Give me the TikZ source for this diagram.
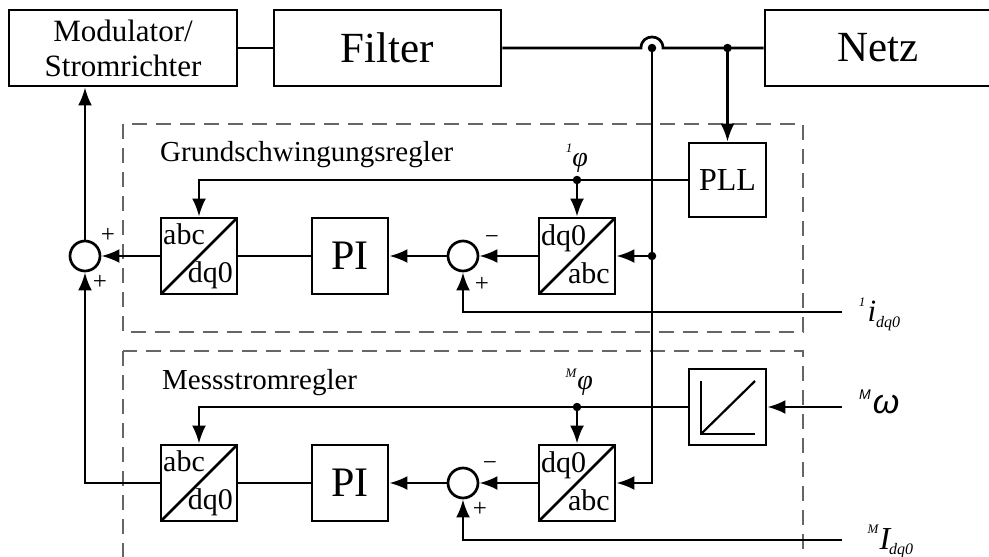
\documentclass[tikz,border=0pt]{standalone}
\usepackage{fontspec}
\setmainfont{Liberation Serif}
\newfontfamily\sansf{Liberation Sans}
\usetikzlibrary{arrows.meta}
\tikzset{
  every picture/.style={x=1pt,y=-1pt},
  wire/.style={line width=2.7pt},
  arr/.style={wire,-{Latex[length=18pt,width=14pt]}},
  blk/.style={draw,line width=2.7pt,rectangle,inner sep=0pt,minimum width=76pt,minimum height=76pt},
  conv/.style={blk,path picture={\draw[line width=2.7pt] (path picture bounding box.south west) -- (path picture bounding box.north east);}},
  sumnode/.style={draw,line width=2.7pt,circle,inner sep=0pt,minimum size=30pt},
  dashbox/.style={draw=black!60,line width=1.1pt,dash pattern=on 15pt off 9pt},
  dotf/.style={fill,circle,inner sep=0pt,minimum size=8.5pt},
  convtxt/.style={font=\fontsize{30}{30}\selectfont,inner sep=0pt},
  sgn/.style={font=\fontsize{25}{25}\selectfont,inner sep=0pt},
}
\begin{document}
\begin{tikzpicture}
\useasboundingbox (0,0) rectangle (989,557);
\fill[white] (0,0) rectangle (989,557);
% dashed frames
\draw[dashbox] (123,124) rectangle (803,332);
\draw[dashbox] (123,351) rectangle (803,590);
% top row
\node[blk,minimum width=228pt,align=center,font=\fontsize{31}{35}\selectfont] (mod) at (123,48) {Modulator/\\Stromrichter};
\node[blk,minimum width=227pt,font=\fontsize{43}{43}\selectfont] (filt) at (387.5,48) {Filter};
\node[blk,minimum width=240pt] (netz) at (885,48) {};
\node[font=\fontsize{43}{43}\selectfont,inner sep=0pt] (netzl) at (878,48) {Netz};
\node[blk,minimum width=77pt,minimum height=74pt,font=\fontsize{32}{32}\selectfont] (pll) at (727.5,180) {PLL};
% controller 1
\node[sumnode] (s1a) at (85,256) {};
\node[conv] (c1a) at (199,256) {};
\node[blk,font=\fontsize{42}{42}\selectfont] (pi1) at (350,256) {PI};
\node[sumnode] (s1b) at (463,256) {};
\node[conv] (c1b) at (577,256) {};
% controller 2
\node[conv] (c2a) at (199,483) {};
\node[blk,font=\fontsize{42}{42}\selectfont] (pi2) at (350,483) {PI};
\node[sumnode] (s2b) at (463,483) {};
\node[conv] (c2b) at (577,483) {};
\node[blk,minimum width=77pt] (ramp) at (727.5,407) {};
% converter texts
\node[convtxt,anchor=base west] (t1) at (163,244) {abc};
\node[convtxt,anchor=base east] (t2) at (233,282) {dq0};
\node[convtxt,anchor=base west] (t3) at (541,245) {dq0};
\node[convtxt,anchor=base east] (t4) at (610,283) {abc};
\node[convtxt,anchor=base west] (t5) at (163,471) {abc};
\node[convtxt,anchor=base east] (t6) at (233,509) {dq0};
\node[convtxt,anchor=base west] (t7) at (541,472) {dq0};
\node[convtxt,anchor=base east] (t8) at (610,510) {abc};
% ramp symbol
\draw[line width=2.2pt] (701,381) -- (701,434) -- (755,434);
\draw[line width=2.2pt] (701,434) -- (755,381);
% frame labels
\node[anchor=base west,inner sep=0pt,font=\fontsize{29}{29}\selectfont] (g1) at (160,161) {Grundschwingungsregler};
\node[anchor=base west,inner sep=0pt,font=\fontsize{29}{29}\selectfont] (g2) at (162,389) {Messstromregler};
% coordinates
\coordinate (hop) at (652,48);
\coordinate (j1) at (727.5,48);
\coordinate (v1) at (652,256);
\coordinate (p1) at (577,180);
\coordinate (p2) at (577,407);
\coordinate (in1) at (842,312);
\coordinate (in2) at (842,407);
\coordinate (in3) at (842,540);
% top wiring
\draw[wire] (mod.east) -- (filt.west);
\draw[wire] (filt.east) -- (641,48) .. controls (641,33.3) and (663,33.3) .. (663,48) -- (netz.west);
\node[dotf] (dh) at (hop) {};
\node[dotf] (dj) at (j1) {};
\draw[arr] (j1) -- (pll.north);
\draw[arr] (pll.west) -| (c1a.north);
\node[dotf] (dp1) at (p1) {};
\draw[arr] (p1) -- (c1b.north);
\draw[arr] (hop) |- (c2b.east);
\node[dotf] (dv1) at (v1) {};
\draw[arr] (v1) -- (c1b.east);
% controller 1 wiring
\draw[arr] (c1b.west) -- (s1b.east);
\draw[arr] (s1b.west) -- (pi1.east);
\draw[wire] (pi1.west) -- (c1a.east);
\draw[arr] (c1a.west) -- (s1a.east);
\draw[arr] (s1a.north) -- (s1a.north |- mod.south);
\draw[arr] (in1) -| (s1b.south);
% controller 2 wiring
\draw[arr] (in2) -- (ramp.east);
\draw[arr] (ramp.west) -| (c2a.north);
\node[dotf] (dp2) at (p2) {};
\draw[arr] (p2) -- (c2b.north);
\draw[arr] (c2b.west) -- (s2b.east);
\draw[arr] (s2b.west) -- (pi2.east);
\draw[wire] (pi2.west) -- (c2a.east);
\draw[arr] (c2a.west) -| (s1a.south);
\draw[arr] (in3) -| (s2b.south);
% signs
\node[sgn] (sa1) at (108,235) {+};
\node[sgn] (sa2) at (100,282) {+};
\node[sgn] (sb1) at (492,240) {−};
\node[sgn] (sb2) at (482,284) {+};
\node[sgn] (sc1) at (490,466) {−};
\node[sgn] (sc2) at (480,509) {+};
% signal labels
\node[inner sep=0pt,font=\fontsize{13}{13}\selectfont\itshape] (l1a) at (569,148) {1};
\node[inner sep=0pt,font=\fontsize{28}{28}\selectfont\itshape] (l1b) at (580,163) {φ};
\node[inner sep=0pt,font=\fontsize{13}{13}\selectfont\itshape] (l2a) at (571,373) {M};
\node[inner sep=0pt,font=\fontsize{28}{28}\selectfont\itshape] (l2b) at (585,386) {φ};
\node[inner sep=0pt,font=\fontsize{13}{13}\selectfont\itshape] (l3a) at (862,302) {1};
\node[inner sep=0pt,font=\fontsize{31}{31}\selectfont\itshape] (l3b) at (872,311) {i};
\node[inner sep=0pt,font=\fontsize{16}{16}\selectfont\itshape] (l3c) at (888,324) {dq0};
\node[inner sep=0pt,font=\fontsize{14}{14}\selectfont\sansf\itshape] (l4a) at (865,395) {M};
\node[inner sep=0pt,font=\fontsize{34}{34}\selectfont\sansf\itshape] (l4b) at (886,405) {ω};
\node[inner sep=0pt,font=\fontsize{13}{13}\selectfont\itshape] (l5a) at (873,529) {M};
\node[inner sep=0pt,font=\fontsize{32}{32}\selectfont\itshape] (l5b) at (885,539) {I};
\node[inner sep=0pt,font=\fontsize{16}{16}\selectfont\itshape] (l5c) at (901,551) {dq0};
\end{tikzpicture}
\end{document}
